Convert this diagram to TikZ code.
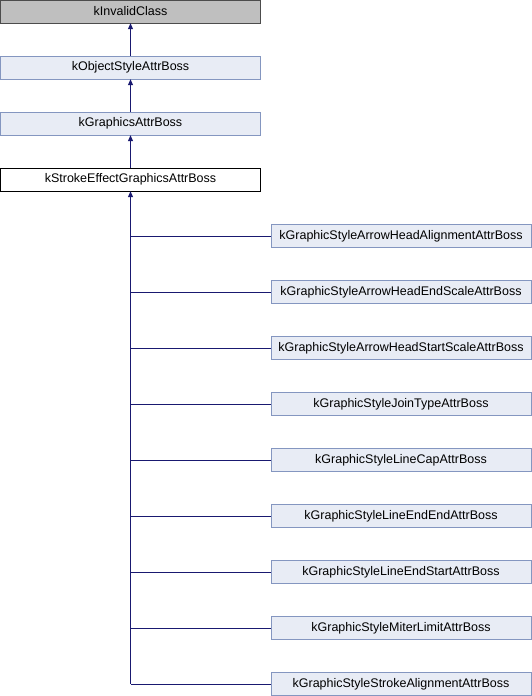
\documentclass[tikz,border=0pt]{standalone}
\usepackage{fontspec}
\setmainfont{Liberation Sans}
\usetikzlibrary{arrows.meta}
\definecolor{edgeblue}{HTML}{191970}
\definecolor{boxfill}{HTML}{E8ECF5}
\definecolor{boxline}{HTML}{8496C0}
\begin{document}
\begin{tikzpicture}[x=1pt,y=-1pt,
  cls/.style={draw=boxline,fill=boxfill,minimum width=260pt,minimum height=23pt,inner sep=0pt,font=\fontsize{12.5}{14}\selectfont,anchor=center},
  invalid/.style={cls,draw=gray!60!black,fill=gray!50},
  cur/.style={cls,draw=black,fill=white},
  edge/.style={draw=edgeblue,line width=0.8pt},
  inh/.style={edge,-{Triangle[length=6pt,width=5pt]}}]
\useasboundingbox (0,0) rectangle (532,696);
\node[invalid] (a) at (130.5,11.5) {kInvalidClass};
\node[cls] (b) at (130.5,67.5) {kObjectStyleAttrBoss};
\node[cls] (c) at (130.5,123.5) {kGraphicsAttrBoss};
\node[cur] (d) at (130.5,179.5) {kStrokeEffectGraphicsAttrBoss};
\node[cls] (e1) at (401,236) {kGraphicStyleArrowHeadAlignmentAttrBoss};
\node[cls] (e2) at (401,292) {kGraphicStyleArrowHeadEndScaleAttrBoss};
\node[cls] (e3) at (401,348) {kGraphicStyleArrowHeadStartScaleAttrBoss};
\node[cls] (e4) at (401,404) {kGraphicStyleJoinTypeAttrBoss};
\node[cls] (e5) at (401,460) {kGraphicStyleLineCapAttrBoss};
\node[cls] (e6) at (401,516) {kGraphicStyleLineEndEndAttrBoss};
\node[cls] (e7) at (401,572) {kGraphicStyleLineEndStartAttrBoss};
\node[cls] (e8) at (401,628) {kGraphicStyleMiterLimitAttrBoss};
\node[cls] (e9) at (401,684) {kGraphicStyleStrokeAlignmentAttrBoss};
\draw[inh] (b.north) -- (a.south);
\draw[inh] (c.north) -- (b.south);
\draw[inh] (d.north) -- (c.south);
\draw[inh] (d.south |- e9.west) -- (d.south);
\foreach \i in {1,...,9} {
  \draw[edge] (e\i.west) -- (d.south |- e\i.west);
}
\end{tikzpicture}
\end{document}
